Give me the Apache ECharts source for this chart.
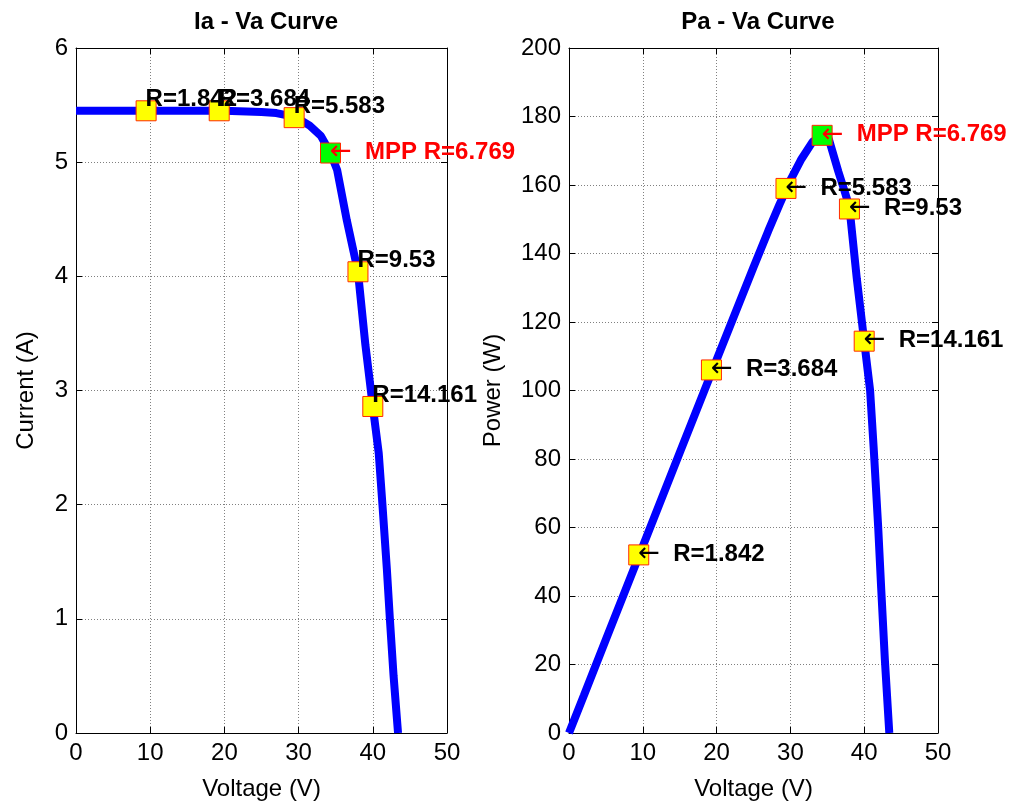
<!DOCTYPE html>
<html>
<head>
<meta charset="utf-8">
<title>Ia - Va and Pa - Va Curves</title>
<script src="https://cdn.jsdelivr.net/npm/echarts@6/dist/echarts.min.js"></script>
<style>
  html, body { margin: 0; padding: 0; background: #ffffff; }
  #chart { width: 1033px; height: 809px; }
</style>
</head>
<body>
<div id="chart"></div>
<script>
// PV array sweep: terminal voltage, current and power
const voltageV = [0, 2, 5, 10, 15, 20, 25, 27, 28.5, 30, 31.5, 33, 34.3, 35.2, 36.5, 37.3, 38.0, 39.0, 40.0, 40.8, 41.3, 41.9, 42.3, 42.8, 43.4];
const currentA = [5.45, 5.45, 5.45, 5.45, 5.45, 5.45, 5.44, 5.43, 5.41, 5.38, 5.32, 5.23, 5.08, 4.93, 4.49, 4.25, 4.04, 3.40, 2.86, 2.45, 2.00, 1.43, 1.00, 0.50, 0];
const powerW   = [0, 10.9, 27.3, 54.5, 81.8, 109, 136, 146.6, 154.2, 161.4, 167.6, 172.6, 174.2, 173.5, 163.9, 158.5, 153.5, 132.6, 114.4, 100, 82.6, 59.9, 42.3, 21.4, 0];

// Operating points for each load resistance
const loadLabels = ['R=1.842', 'R=3.684', 'R=5.583', 'MPP R=6.769', 'R=9.53', 'R=14.161'];
const loadV = [9.45, 19.3, 29.4, 34.3, 38.0, 40.0];
const loadI = [5.45, 5.45, 5.39, 5.08, 4.04, 2.86];
const loadP = [52, 106, 159, 174.5, 153, 114.4];
const mppIndex = 3;

// Axis ranges / ticks
const voltTicks = { min: 0, max: 50, interval: 10 };
const currTicks = { min: 0, max: 6, interval: 1 };
const powTicks  = { min: 0, max: 200, interval: 20 };

const FONT = "'Liberation Sans', Arial, Helvetica, sans-serif";
const ARROW_FONT = "'DejaVu Sans', sans-serif";
const FS = 24;

function zip(xs, ys) { return xs.map((x, i) => [x, ys[i]]); }

function mainAxisBase(range, extra) {
  return Object.assign({
    type: 'value',
    min: range.min, max: range.max, interval: range.interval,
    axisLine: { show: true, onZero: false, lineStyle: { color: '#000', width: 1 } },
    axisTick: { show: true, inside: true, length: 6, lineStyle: { color: '#000' } },
    axisLabel: { show: true, color: '#000', fontSize: FS, fontFamily: FONT, showMinLabel: true, showMaxLabel: true },
    splitLine: { show: true, lineStyle: { color: '#808080', type: [1, 2], width: 1 } },
    nameTextStyle: { color: '#000', fontSize: FS, fontFamily: FONT }
  }, extra);
}

function mirrorAxis(range, extra) {
  return Object.assign({
    type: 'value',
    min: range.min, max: range.max, interval: range.interval,
    axisLine: { show: true, onZero: false, lineStyle: { color: '#000', width: 1 } },
    axisTick: { show: true, inside: true, length: 6, lineStyle: { color: '#000' } },
    axisLabel: { show: false },
    splitLine: { show: false }
  }, extra);
}

function markerPoints(ys, leftStyle) {
  return loadV.map((v, i) => {
    const isMpp = i === mppIndex;
    const color = isMpp ? '#ff0000' : '#000000';
    const withArrow = !leftStyle || isMpp;
    const text = withArrow ? '{a|\u2190}{t|' + loadLabels[i] + '}' : '{t|' + loadLabels[i] + '}';
    const raised = leftStyle && !isMpp;
    return {
      value: [v, ys[i]],
      itemStyle: { color: isMpp ? '#00ff00' : '#ffff00', borderColor: '#ff2a00', borderWidth: 1, opacity: 1 },
      label: {
        show: true,
        formatter: text,
        position: raised ? [10, -1] : [10, 10],
        align: 'left',
        verticalAlign: 'middle',
        opacity: 1,
        rich: {
          a: { color: color, fontSize: 26, fontFamily: ARROW_FONT, fontWeight: 'normal', width: 35, align: 'left' },
          t: { color: color, fontSize: FS, fontFamily: FONT, fontWeight: 'bold' }
        }
      }
    };
  });
}

const chart = echarts.init(document.getElementById('chart'), null, { renderer: 'canvas' });

chart.setOption({
  animation: false,
  backgroundColor: '#ffffff',
  title: [
    { text: 'Ia - Va Curve', left: 261, top: 5, textAlign: 'center',
      textStyle: { fontSize: FS, fontWeight: 'bold', fontFamily: FONT, color: '#000' } },
    { text: 'Pa - Va Curve', left: 753, top: 5, textAlign: 'center',
      textStyle: { fontSize: FS, fontWeight: 'bold', fontFamily: FONT, color: '#000' } }
  ],
  grid: [
    { left: 76, right: 586, top: 48, bottom: 76, containLabel: false },
    { left: 569, right: 95, top: 48, bottom: 76, containLabel: false }
  ],
  xAxis: [
    mainAxisBase(voltTicks, { gridIndex: 0, position: 'bottom', name: 'Voltage (V)', nameLocation: 'middle', nameGap: 44 }),
    mirrorAxis(voltTicks, { gridIndex: 0, position: 'top' }),
    mainAxisBase(voltTicks, { gridIndex: 1, position: 'bottom', name: 'Voltage (V)', nameLocation: 'middle', nameGap: 44 }),
    mirrorAxis(voltTicks, { gridIndex: 1, position: 'top' })
  ],
  yAxis: [
    mainAxisBase(currTicks, { gridIndex: 0, position: 'left', name: 'Current (A)', nameLocation: 'middle', nameGap: 38 }),
    mirrorAxis(currTicks, { gridIndex: 0, position: 'right' }),
    mainAxisBase(powTicks, { gridIndex: 1, position: 'left', name: 'Power (W)', nameLocation: 'middle', nameGap: 64 }),
    mirrorAxis(powTicks, { gridIndex: 1, position: 'right' })
  ],
  series: [
    {
      name: 'Ia - Va', type: 'line', xAxisIndex: 0, yAxisIndex: 0,
      data: zip(voltageV, currentA), showSymbol: false, smooth: false,
      lineStyle: { color: '#0000ff', width: 8 }, z: 2
    },
    {
      name: 'Ia points', type: 'scatter', xAxisIndex: 0, yAxisIndex: 0,
      symbol: 'rect', symbolSize: 20, data: markerPoints(loadI, true), z: 5
    },
    {
      name: 'Pa - Va', type: 'line', xAxisIndex: 2, yAxisIndex: 2,
      data: zip(voltageV, powerW), showSymbol: false, smooth: false,
      lineStyle: { color: '#0000ff', width: 8 }, z: 2
    },
    {
      name: 'Pa points', type: 'scatter', xAxisIndex: 2, yAxisIndex: 2,
      symbol: 'rect', symbolSize: 20, data: markerPoints(loadP, false), z: 5
    }
  ]
});
</script>
</body>
</html>
